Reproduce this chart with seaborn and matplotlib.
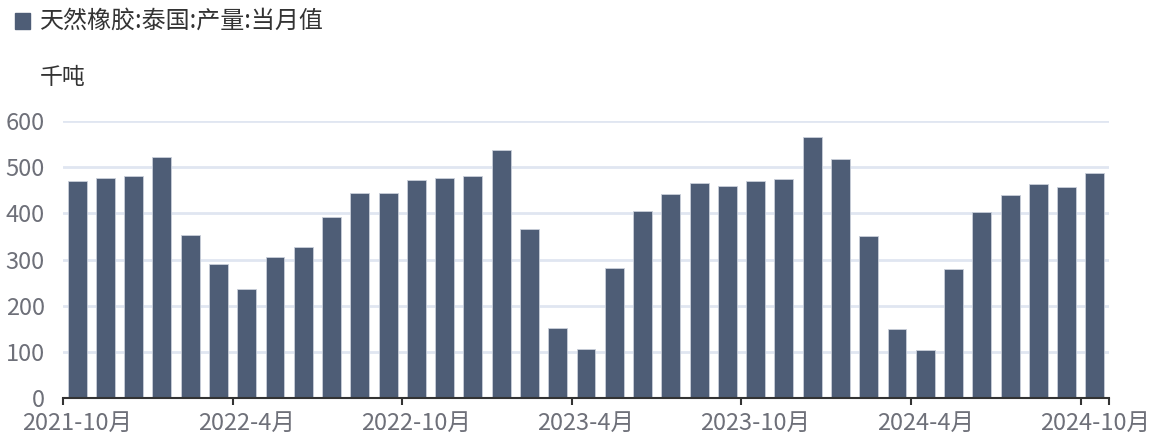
import matplotlib
matplotlib.use('Agg')
import matplotlib.pyplot as plt
from matplotlib.patches import Rectangle
import seaborn as sns
import pandas as pd

# 月份 2021-10 ~ 2024-10
months = [f"{d.year}-{d.month}月" for d in pd.period_range('2021-10', '2024-10', freq='M')]

# 天然橡胶:泰国:产量:当月值 (千吨)
values = [469, 477, 481, 521, 354, 290, 236, 306, 328, 391, 445, 445,
          472, 476, 480, 538, 366, 151, 106, 282, 404, 441, 466, 460,
          470, 474, 566, 518, 350, 150, 105, 280, 402, 439, 463, 458,
          488]

series_name = '天然橡胶:泰国:产量:当月值'
unit = '千吨'
y_ticks = [0, 100, 200, 300, 400, 500, 600]

bar_color = '#4E5D76'
grid_color = '#E0E6F1'
label_color = '#6E7079'
text_color = '#333333'

sns.set_theme(style='white')
plt.rcParams['font.family'] = ['Noto Sans CJK SC', 'DejaVu Sans']
plt.rcParams['axes.unicode_minus'] = False

df = pd.DataFrame({'month': months, 'value': values})

fig = plt.figure(figsize=(11.54, 4.34), dpi=100)
ax = fig.add_axes([63 / 1154, 1 - 398 / 434, (1109 - 63) / 1154, (398 - 121) / 434])

sns.barplot(data=df, x='month', y='value', color=bar_color, saturation=1,
            width=0.67, edgecolor='#C9CFDA', linewidth=0.6, ax=ax, zorder=3)

n = len(months)
ax.set_xlim(-0.5, n - 0.5)
ax.set_ylim(0, 600)

# 网格线
ax.set_yticks(y_ticks)
ax.set_yticklabels([str(v) for v in y_ticks])
for v in y_ticks[1:]:
    ax.axhline(v, color=grid_color, linewidth=2, zorder=1)

# x轴：刻度在类目边界，标签在类目中心
step = 6
major = [i - 0.5 for i in range(0, n, step)] + [n - 0.5]
ax.set_xticks(major)
ax.set_xticklabels([''] * len(major))
ax.set_xticks(list(range(0, n, step)), minor=True)
ax.set_xticklabels([months[i] for i in range(0, n, step)], minor=True)
ax.tick_params(axis='x', which='major', length=5, width=1.5, color=text_color, direction='out', bottom=True)
ax.tick_params(axis='x', which='minor', length=0, pad=10, labelsize=17, labelcolor=label_color)
ax.tick_params(axis='y', length=0, pad=13, labelsize=17, labelcolor=label_color)

ax.set_xlabel('')
ax.set_ylabel('')
for side in ['top', 'right', 'left']:
    ax.spines[side].set_visible(False)
ax.spines['bottom'].set_color(text_color)
ax.spines['bottom'].set_linewidth(1.5)
ax.spines['bottom'].set_zorder(4)

# 图例
fig.patches.append(Rectangle((15 / 1154, 1 - 29 / 434), 15 / 1154, 16 / 434,
                             transform=fig.transFigure, color=bar_color))
fig.text(40 / 1154, 1 - 21 / 434, series_name, fontsize=17.3, color=text_color, va='center', ha='left')

# 单位
fig.text(40 / 1154, 1 - 77 / 434, unit, fontsize=16.5, color=text_color, va='center', ha='left')

fig.savefig('out.png', dpi=100)
